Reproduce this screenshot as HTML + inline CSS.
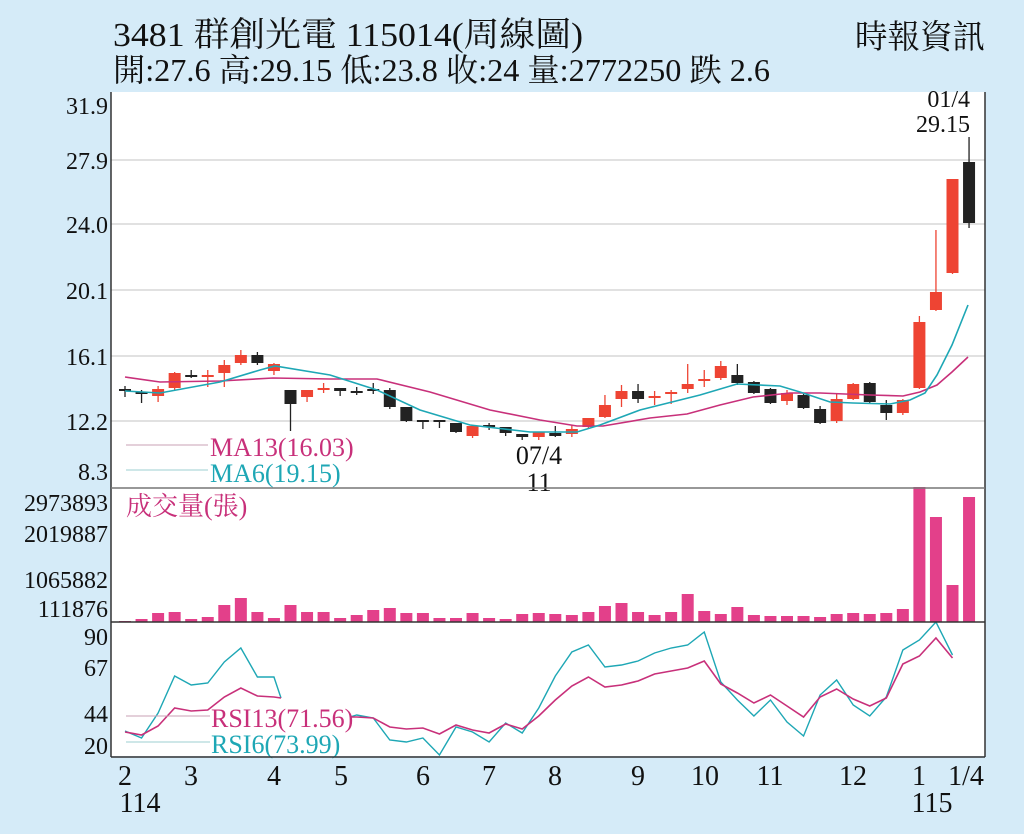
<!DOCTYPE html>
<html><head><meta charset="utf-8"><style>
html,body{margin:0;padding:0;background:#d5ebf8;}
body{width:1024px;height:834px;overflow:hidden;position:relative;font-family:"Liberation Serif","Noto Serif CJK SC","Noto Sans CJK TC",serif;}
svg{position:absolute;left:0;top:0;}
</style></head><body>
<svg id="s" width="1024" height="834" xmlns="http://www.w3.org/2000/svg" font-family="Liberation Serif, Noto Serif CJK SC, Noto Sans CJK TC, serif">
<rect x="111" y="92" width="874" height="664" fill="#fff"/>
<g stroke="#cfcfcf" stroke-width="1.2">
<line x1="111" y1="160" x2="985" y2="160"/><line x1="111" y1="224" x2="985" y2="224"/>
<line x1="111" y1="290" x2="985" y2="290"/><line x1="111" y1="356" x2="985" y2="356"/>
<line x1="111" y1="421" x2="985" y2="421"/>
</g>
<g fill="#111">
<text x="113" y="46" font-size="34" textLength="470" lengthAdjust="spacingAndGlyphs">3481  群創光電 115014(周線圖)</text>
<text x="113" y="81" font-size="32" textLength="657" lengthAdjust="spacingAndGlyphs">開:27.6 高:29.15 低:23.8 收:24 量:2772250 跌 2.6</text>
<text x="855" y="48" font-size="33" textLength="130" lengthAdjust="spacingAndGlyphs">時報資訊</text>
</g>
<g fill="#111" font-size="24" text-anchor="end">
<text x="108" y="114">31.9</text><text x="108" y="169">27.9</text><text x="108" y="233">24.0</text>
<text x="108" y="299">20.1</text><text x="108" y="365">16.1</text><text x="108" y="430">12.2</text>
<text x="108" y="480">8.3</text>
<text x="108" y="511">2973893</text><text x="108" y="542">2019887</text>
<text x="108" y="588">1065882</text><text x="108" y="617">111876</text>
<text x="108" y="645">90</text><text x="108" y="676">67</text><text x="108" y="722">44</text><text x="108" y="754">20</text>
<text x="970" y="107">01/4</text><text x="970" y="132">29.15</text>
</g>
<g fill="#111" font-size="28" text-anchor="middle">
<text x="125" y="785">2</text><text x="191" y="785">3</text><text x="274" y="785">4</text><text x="341" y="785">5</text>
<text x="423" y="785">6</text><text x="489" y="785">7</text><text x="555" y="785">8</text><text x="638" y="785">9</text>
<text x="705" y="785">10</text><text x="770" y="785">11</text><text x="853" y="785">12</text><text x="919" y="785">1</text>
<text x="966" y="785">1/4</text><text x="140" y="812">114</text><text x="932" y="812">115</text>
</g>
<g fill="#111" font-size="26" text-anchor="middle">
<text x="539" y="464">07/4</text><text x="539" y="491">11</text>
</g>
<g id="c"></g>
<line x1="126" y1="445" x2="208" y2="445" stroke="#c9a0b4"/>
<line x1="126" y1="470" x2="208" y2="470" stroke="#9ccfd0"/>
<text x="210" y="456" font-size="26" fill="#c8307a">MA13(16.03)</text>
<text x="210" y="482" font-size="26" fill="#1ea7b5">MA6(19.15)</text>
<text x="126" y="515" font-size="26" fill="#c8307a">成交量(張)</text>
<line x1="126" y1="716" x2="210" y2="716" stroke="#c9a0b4"/>
<line x1="126" y1="742" x2="210" y2="742" stroke="#9ccfd0"/>
<text x="211" y="727" font-size="26" fill="#c8307a">RSI13(71.56)</text>
<text x="211" y="753" font-size="26" fill="#1ea7b5">RSI6(73.99)</text>
<g stroke="#333" stroke-width="1.5" fill="none">
<line x1="111" y1="92" x2="111" y2="757"/><line x1="985" y1="92" x2="985" y2="757"/>
<line x1="111" y1="757" x2="985" y2="757"/>
<line x1="111" y1="488" x2="985" y2="488" stroke="#777"/><line x1="111" y1="622" x2="985" y2="622"/>
</g>
</svg>
<script>
var g=document.getElementById('c'),NS='http://www.w3.org/2000/svg';
function el(t,a){var e=document.createElementNS(NS,t);for(var k in a)e.setAttribute(k,a[k]);g.appendChild(e);return e;}
function X(i){return 125+16.55*i;}
var C=[[389,391,386,397,'b'],[392,393,390,403,'b'],[389,396,386,402,'r'],[373,388,372,390,'r'],[375,376,370,378,'b'],[375,377,370,387,'r'],[365,373,360,387,'r'],[355,363,350,365,'r'],[355,363,352,365,'b'],[364,371,363,375,'r'],
[390,404,390,431,'b'],[390,397,390,402,'r'],[388,390,383,393,'r'],[388,391,388,396,'b'],[391,393,387,395,'b'],[389,391,383,394,'b'],[390,407,388,409,'b'],[407,421,407,422,'b'],[420,422,420,429,'b'],[420,422,420,428,'b'],
[423,432,423,433,'b'],[426,436,426,438,'r'],[425,427,423,430,'b'],[427,433,427,436,'b'],[434,437,434,440,'b'],[432,437,432,440,'r'],[433,436,426,437,'b'],[429,434,425,437,'r'],[418,427,418,428,'r'],[405,417,395,418,'r'],
[391,399,385,407,'r'],[391,399,384,403,'b'],[396,398,391,405,'r'],[392,394,390,404,'r'],[384,389,364,393,'r'],[379,381,370,387,'r'],[366,378,361,380,'r'],[375,383,364,385,'b'],[382,393,381,394,'b'],[389,403,388,404,'b'],
[393,401,390,405,'r'],[395,408,394,409,'b'],[409,423,406,424,'b'],[399,421,393,423,'r'],[384,399,383,400,'r'],[383,402,382,403,'b'],[405,413,400,420,'b'],[400,413,399,415,'r'],[322,388,316,389,'r'],[292,310,230,311,'r'],
[179,273,179,274,'r'],[162,223,137,228,'b']];
var V=[621,619,613,612,619,617,605,598,612,618,605,612,612,618,615,610,608,613,613,618,618,613,618,619,614,613,614,615,612,606,603,612,615,612,594,611,614,607,615,616,616,616,617,614,613,614,613,609,487,517,585,497];
C.forEach(function(c,i){var x=X(i),col=c[4]=='r'?'#ee4433':'#222';
 el('line',{x1:x,x2:x,y1:c[2],y2:c[3],stroke:col,'stroke-width':1.3});
 el('rect',{x:x-6,y:c[0],width:12,height:Math.max(2,c[1]-c[0]),fill:col});
 el('rect',{x:x-6,y:V[i],width:12,height:622-V[i],fill:'#e3408a'});});
function pl(p,c,w){el('polyline',{points:p,fill:'none',stroke:c,'stroke-width':w||1.6});}
pl('125,377 160,382 220,381 273,378 330,379 377,379 430,392 490,410 540,420 577,426 603,426 650,418 687,414 720,405 753,397 790,393 820,393 870,395 903,396 920,392 937,385 952,372 968,357','#c8307a');
pl('125,391 160,393 220,382 260,370 275,366 330,375 377,390 420,410 470,425 530,432 577,432 600,425 640,410 700,395 737,384 780,386 800,392 830,402 853,403 890,404 910,400 925,393 937,375 952,345 968,305','#1ea7b5');
var r6=[[731,738,713,676,685,683,662,648,677,677],[717,715,718,740,742,738,755,727,732,742,723,733,708,676,652,645,667,665,661,653,648,645,632,682,700,716,700,722,736,695,680,705,716,697,650,640,622,655]];
var r13=[[732,735,726,708,711,710,697,688,696,697],[717,717,718,727,729,728,734,725,730,733,724,729,716,700,686,677,687,685,681,674,671,668,661,684,693,703,695,706,717,697,689,699,706,698,664,656,638,658]];
function rp(a){var p=a[0].map(function(y,i){return X(i)+','+y;}).join(' ')+' 281,698';var q='350,'+a[1][0]+' '+a[1].slice(1).map(function(y,i){return X(i+14)+','+y;}).join(' ');return [p,q];}
var a=rp(r6),b=rp(r13);
pl(a[0],'#1ea7b5',1.4);pl(a[1],'#1ea7b5',1.4);pl(b[0],'#c8307a',1.6);pl(b[1],'#c8307a',1.6);
</script>
</body></html>
